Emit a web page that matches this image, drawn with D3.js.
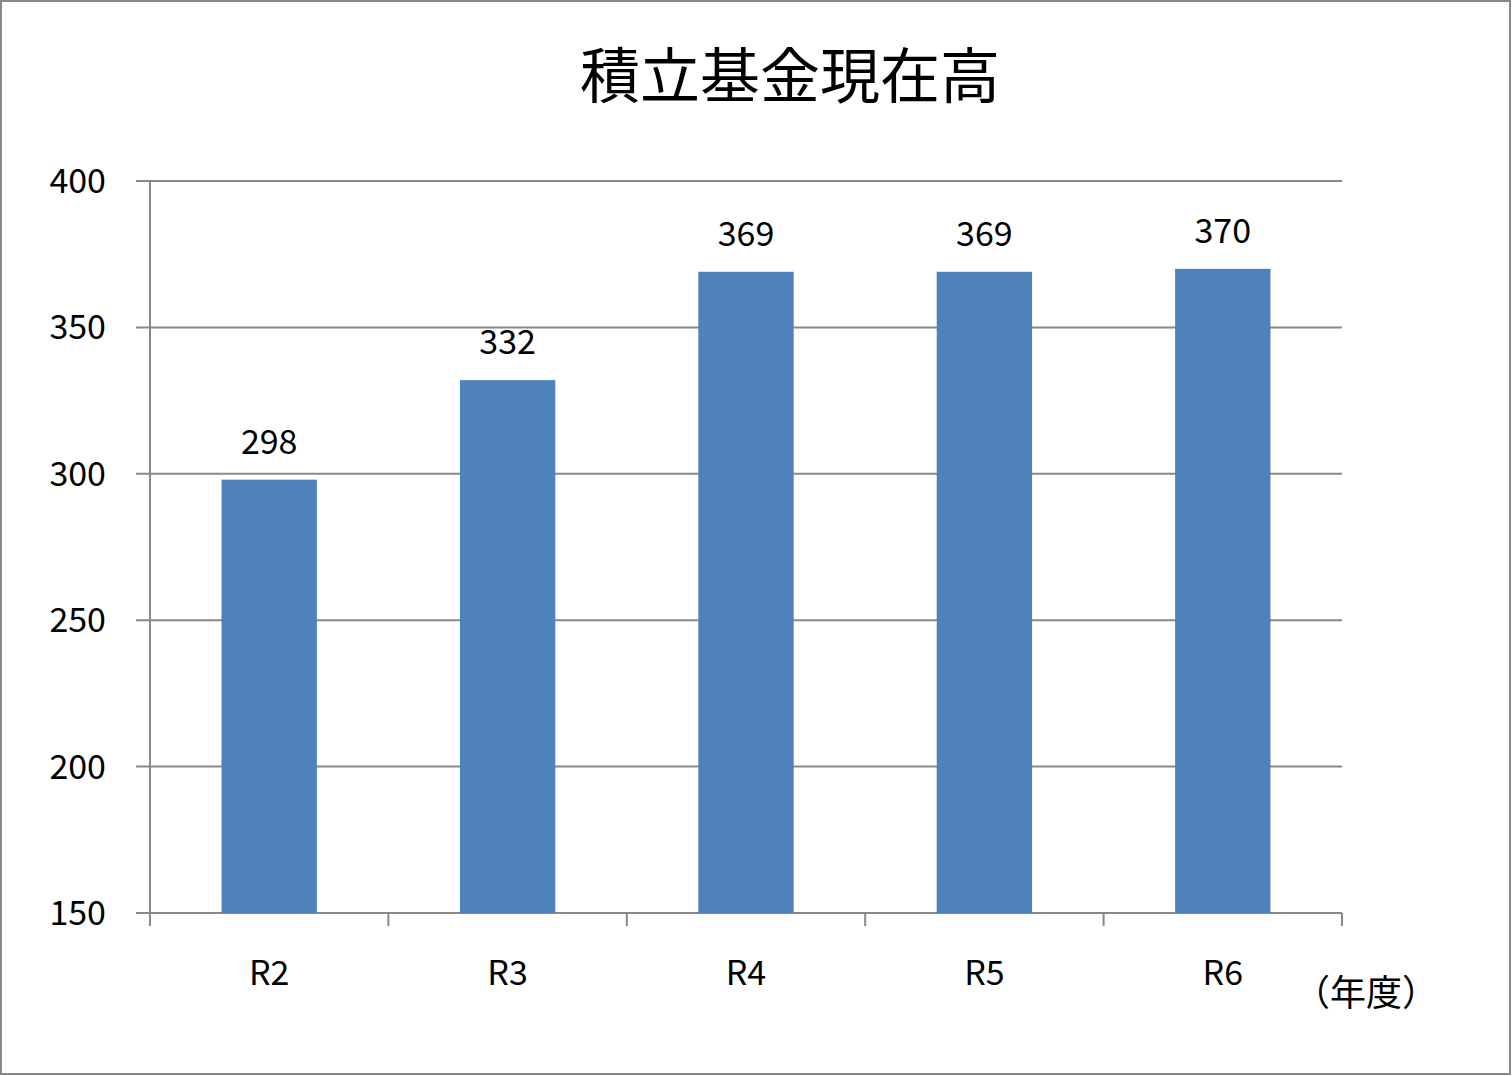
<!DOCTYPE html>
<html><head><meta charset="utf-8">
<script src="https://cdn.jsdelivr.net/npm/d3@7"></script>
<style>body{margin:0;background:#fff}text{font-family:"Noto Sans CJK JP","Noto Sans",sans-serif}</style>
</head><body>
<svg id="c" width="1512" height="1076"></svg>
<script>
const categories=["R2","R3","R4","R5","R6"];
const values=[298,332,369,369,370];
const yTicks=[150,200,250,300,350,400];
const title="積立基金現在高";
const unitLabel="（年度）";

const svg=d3.select("#c");
svg.append("rect").attr("x",1).attr("y",1).attr("width",1509).attr("height",1073).attr("fill","#fff").attr("stroke","#888").attr("stroke-width",2);
const L=150,R=1342,T=181,B=913;
const x=d3.scaleBand().domain(categories).range([L,R]).paddingInner(0.6).paddingOuter(0.3);
const y=d3.scaleLinear().domain([150,400]).range([B,T]);
const grid="#888";
svg.append("g").selectAll("line").data(yTicks).join("line")
 .attr("x1",136).attr("x2",R).attr("y1",d=>y(d)).attr("y2",d=>y(d)).attr("stroke",grid).attr("stroke-width",2);
svg.append("line").attr("x1",L).attr("x2",L).attr("y1",T).attr("y2",926).attr("stroke",grid).attr("stroke-width",2);
const step=(R-L)/categories.length;
svg.append("g").selectAll("line").data(d3.range(categories.length+1)).join("line")
 .attr("x1",i=>L+i*step).attr("x2",i=>L+i*step).attr("y1",B).attr("y2",926).attr("stroke",grid).attr("stroke-width",2);
svg.append("g").selectAll("text").data(yTicks).join("text")
 .attr("x",106).attr("y",d=>y(d)+12).attr("text-anchor","end").attr("font-size",34).text(d=>d);
svg.append("g").selectAll("rect").data(values).join("rect")
 .attr("x",(d,i)=>x(categories[i])).attr("width",x.bandwidth()).attr("y",d=>y(d)).attr("height",d=>B-y(d)).attr("fill","#4F81BD");
svg.append("g").selectAll("text").data(values).join("text")
 .attr("x",(d,i)=>x(categories[i])+x.bandwidth()/2).attr("y",d=>y(d)-26).attr("text-anchor","middle").attr("font-size",34).text(d=>d);
svg.append("g").selectAll("text").data(categories).join("text")
 .attr("x",d=>x(d)+x.bandwidth()/2).attr("y",985).attr("text-anchor","middle").attr("font-size",34).text(d=>d);
svg.append("text").attr("x",1366).attr("y",1006).attr("text-anchor","middle").attr("font-size",36).text(unitLabel);
svg.append("text").attr("x",790).attr("y",98).attr("text-anchor","middle").attr("font-size",60).text(title);
</script></body></html>
